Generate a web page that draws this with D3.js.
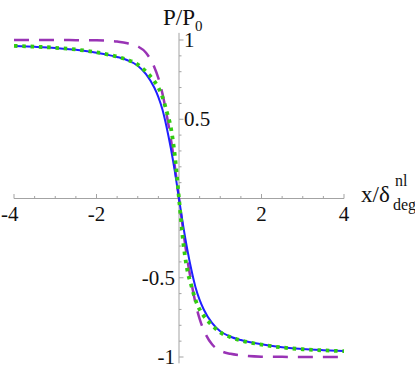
<!DOCTYPE html>
<html><head><meta charset="utf-8">
<script src="https://cdn.jsdelivr.net/npm/d3@7/dist/d3.min.js"></script>
<style>html,body{margin:0;padding:0;background:#fff;}svg{display:block;}</style>
</head><body>
<script>
// x samples
const xs = [-4,-3.5,-3,-2.5,-2,-1.5,-1.25,-1,-0.8,-0.6,-0.5,-0.4,-0.3,-0.2,-0.1,0,0.1,0.2,0.3,0.4,0.5,0.6,0.8,1,1.25,1.5,2,2.5,3,3.5,4];
// blue solid
const blueY = [0.962,0.957,0.950,0.938,0.920,0.893,0.872,0.838,0.785,0.70,0.64,0.56,0.45,0.32,0.17,0,-0.17,-0.32,-0.45,-0.56,-0.64,-0.70,-0.785,-0.838,-0.872,-0.893,-0.920,-0.938,-0.950,-0.957,-0.962];
// green dotted
const greenY = [0.963,0.958,0.951,0.940,0.922,0.895,0.875,0.845,0.80,0.74,0.70,0.64,0.55,0.45,0.27,0,-0.27,-0.45,-0.55,-0.64,-0.70,-0.74,-0.80,-0.845,-0.875,-0.895,-0.922,-0.940,-0.951,-0.958,-0.963];
// purple dashed
const purpleY = [1.0,1.0,1.0,0.999,0.998,0.99,0.98,0.96,0.92,0.83,0.76,0.66,0.53,0.38,0.20,0,-0.20,-0.38,-0.53,-0.66,-0.76,-0.83,-0.92,-0.96,-0.98,-0.99,-0.998,-0.999,-1.0,-1.0,-1.0];
const xMajor = [-4,-2,2,4];
const xMinor = [-3.5,-3,-2.5,-1.5,-1,-0.5,0.5,1,1.5,2.5,3,3.5];
const yMajor = [1,0.5,-0.5,-1];
const yMinor = [0.9,0.8,0.7,0.6,0.4,0.3,0.2,0.1,-0.1,-0.2,-0.3,-0.4,-0.6,-0.7,-0.8,-0.9];
const xTickLabels = ["-4","-2","2","4"];
const yTickLabels = ["1","0.5","-0.5","-1"];

const W=415,H=371;
const FF="Liberation Serif";
const svg=d3.select("body").append("svg").attr("width",W).attr("height",H);
const x=d3.scaleLinear().domain([-4,4]).range([14,344]);
const y=d3.scaleLinear().domain([-1,1]).range([357,40]);
const axisCol="#a3a3a3";

// axes lines
svg.append("line").attr("x1",x(-4)).attr("x2",x(4)).attr("y1",y(0)).attr("y2",y(0)).attr("stroke",axisCol).attr("stroke-width",1);
svg.append("line").attr("x1",x(0)).attr("x2",x(0)).attr("y1",y(1.045)).attr("y2",y(-1.04)).attr("stroke",axisCol).attr("stroke-width",1);
// x ticks (upward)
svg.selectAll(".xmaj").data(xMajor).enter().append("line").attr("x1",d=>x(d)).attr("x2",d=>x(d)).attr("y1",y(0)).attr("y2",y(0)-4.5).attr("stroke",axisCol);
svg.selectAll(".xmin").data(xMinor).enter().append("line").attr("x1",d=>x(d)).attr("x2",d=>x(d)).attr("y1",y(0)).attr("y2",y(0)-2.5).attr("stroke",axisCol);
// y ticks (rightward)
svg.selectAll(".ymaj").data(yMajor).enter().append("line").attr("x1",x(0)).attr("x2",x(0)+4.5).attr("y1",d=>y(d)).attr("y2",d=>y(d)).attr("stroke",axisCol);
svg.selectAll(".ymin").data(yMinor).enter().append("line").attr("x1",x(0)).attr("x2",x(0)+2.5).attr("y1",d=>y(d)).attr("y2",d=>y(d)).attr("stroke",axisCol);

// curves
const line=(ys)=>d3.line().x((d,i)=>x(xs[i])).y(d=>y(d)).curve(d3.curveMonotoneX)(ys);
svg.append("path").attr("d",line(purpleY)).attr("fill","none").attr("stroke","#9933b5").attr("stroke-width",2.5).attr("stroke-dasharray","15,10");
svg.append("path").attr("d",line(blueY)).attr("fill","none").attr("stroke","#1f1fff").attr("stroke-width",2);
svg.append("path").attr("d",line(greenY)).attr("fill","none").attr("stroke","#33cc11").attr("stroke-width",3.8).attr("stroke-dasharray","3.5,4.8");

// tick labels
xMajor.forEach((d,i)=>{
  svg.append("text").attr("x", i===0 ? 1 : x(d)).attr("y",y(0)+22)
   .attr("text-anchor", i===0 ? "start":"middle")
   .attr("font-family",FF).attr("font-size",21).attr("fill","#111").text(xTickLabels[i]);
});
yMajor.forEach((d,i)=>{
  svg.append("text").attr("x", d>0 ? x(0)+5 : x(0)-4).attr("y",y(d)+7)
   .attr("text-anchor", d>0 ? "start":"end")
   .attr("font-family",FF).attr("font-size",21).attr("fill","#111").text(yTickLabels[i]);
});

// axis labels
const yl=svg.append("text").attr("x",163).attr("y",25).attr("font-family",FF).attr("font-size",23).attr("fill","#111");
yl.append("tspan").text("P/P");
yl.append("tspan").attr("dy",6).attr("font-size",15).text("0");
svg.append("text").attr("x",361).attr("y",202).attr("font-family",FF).attr("font-size",23).attr("fill","#111").text("x/δ");
svg.append("text").attr("x",395).attr("y",186).attr("font-family",FF).attr("font-size",16).attr("fill","#111").text("nl");
svg.append("text").attr("x",393).attr("y",210).attr("font-family",FF).attr("font-size",16).attr("fill","#111").text("deg");
</script>
</body></html>
